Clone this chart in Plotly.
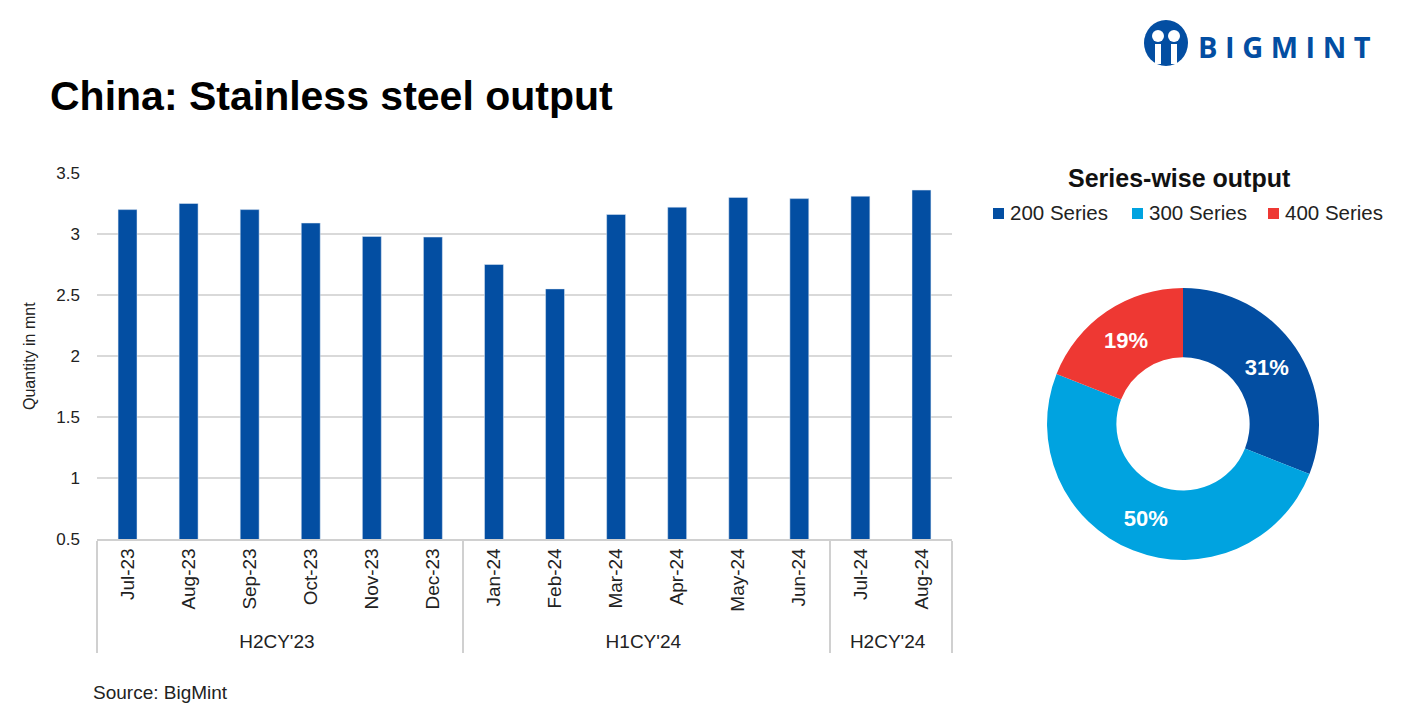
import plotly.graph_objects as go

months = ["Jul-23", "Aug-23", "Sep-23", "Oct-23", "Nov-23", "Dec-23",
          "Jan-24", "Feb-24", "Mar-24", "Apr-24", "May-24", "Jun-24",
          "Jul-24", "Aug-24"]
periods = ["H2CY'23"] * 6 + ["H1CY'24"] * 6 + ["H2CY'24"] * 2
output_mnt = [3.20, 3.25, 3.20, 3.09, 2.98, 2.975, 2.75, 2.55, 3.16, 3.22, 3.30, 3.29, 3.31, 3.36]

series_labels = ["200 Series", "300 Series", "400 Series"]
series_share = [31, 50, 19]
series_colors = ["#034EA2", "#00A3E0", "#EE3833"]

FONT = "Liberation Sans, Arial, sans-serif"
W, H = 1407, 727
OFF = 8  # page body margin


def px(x):
    return (x - OFF) / W


def py(y):
    return 1 - (y - OFF) / H


fig = go.Figure()
fig.add_trace(go.Bar(
    x=[periods, months], y=output_mnt, marker_color="#034EA2",
    width=0.31, showlegend=False, xaxis="x", yaxis="y"))

fig.add_trace(go.Pie(
    labels=series_labels, values=series_share, hole=0.49, sort=False,
    direction="clockwise", rotation=0,
    marker=dict(colors=series_colors, line=dict(width=0)),
    textinfo="percent", texttemplate="%{percent:.0%}",
    textposition="inside", insidetextorientation="horizontal",
    textfont=dict(color="white", size=22, family=FONT, weight="bold"),
    domain=dict(x=[px(1183 - 136), px(1183 + 136)], y=[py(560), py(288)]),
    showlegend=False))

fig.update_layout(
    width=W, height=H, paper_bgcolor="white", plot_bgcolor="white",
    margin=dict(l=0, r=0, t=0, b=0, autoexpand=False),
    font=dict(family=FONT, color="#222222", size=16),
    xaxis=dict(domain=[px(97), px(952)], type="multicategory", automargin=False,
               showline=True, linecolor="#D0D0D0", linewidth=1.5,
               showdividers=True, dividercolor="#D0D0D0", dividerwidth=1.5,
               tickangle=-90, tickfont=dict(size=19, color="#222222"),
               ticks="", showgrid=False),
    yaxis=dict(domain=[py(539), py(173)], range=[0.5, 3.5], automargin=False,
               tickvals=[0.5, 1, 1.5, 2, 2.5, 3, 3.5],
               ticktext=["0.5", "1", "1.5", "2", "2.5", "3", "3.5"],
               showgrid=True, gridcolor="#D9D9D9", gridwidth=2,
               zeroline=False, showline=False, ticks="", ticklabelstandoff=16,
               tickfont=dict(size=17, color="#222222")),
    showlegend=False,
)

# legend for the donut (squares + labels)
legend_sq_x = [993, 1132, 1268]
legend_tx_x = [1008, 1147, 1283]
for lab, col, sx, tx in zip(series_labels, series_colors, legend_sq_x, legend_tx_x):
    fig.add_shape(type="rect", xref="paper", yref="paper",
                  x0=px(sx), x1=px(sx + 11), y0=py(219), y1=py(208),
                  fillcolor=col, line=dict(width=0))
    fig.add_annotation(x=px(tx), y=py(213), xref="paper", yref="paper",
                       xanchor="left", yanchor="middle", text=lab, showarrow=False,
                       font=dict(size=20.5, color="#222222"))

fig.add_annotation(x=px(30), y=py(356), xref="paper", yref="paper",
                   xanchor="center", yanchor="middle",
                   text="Quantity in mnt", textangle=-90, showarrow=False,
                   font=dict(size=16, color="#222222"))
fig.add_annotation(x=px(48), y=py(96), xref="paper", yref="paper",
                   xanchor="left", yanchor="middle",
                   text="<b>China: Stainless steel output</b>", showarrow=False,
                   font=dict(size=41, color="#000000"))
fig.add_annotation(x=px(1179), y=py(178), xref="paper", yref="paper",
                   xanchor="center", yanchor="middle",
                   text="<b>Series-wise output</b>", showarrow=False,
                   font=dict(size=25, color="#111111"))
fig.add_annotation(x=px(91), y=py(692), xref="paper", yref="paper",
                   xanchor="left", yanchor="middle",
                   text="Source: BigMint", showarrow=False,
                   font=dict(size=19, color="#222222"))
# logo
fig.add_shape(type="circle", xref="paper", yref="paper",
              x0=px(1144), x1=px(1188), y0=py(66), y1=py(20),
              fillcolor="#034EA2", line=dict(width=0))
fig.add_shape(type="circle", xref="paper", yref="paper",
              x0=px(1152), x1=px(1164), y0=py(42), y1=py(30),
              fillcolor="white", line=dict(width=0))
fig.add_shape(type="circle", xref="paper", yref="paper",
              x0=px(1168), x1=px(1180), y0=py(42), y1=py(30),
              fillcolor="white", line=dict(width=0))
fig.add_shape(type="rect", xref="paper", yref="paper",
              x0=px(1155), x1=px(1161), y0=py(64), y1=py(44),
              fillcolor="white", line=dict(width=0))
fig.add_shape(type="rect", xref="paper", yref="paper",
              x0=px(1171), x1=px(1177), y0=py(64), y1=py(44),
              fillcolor="white", line=dict(width=0))
fig.add_annotation(x=px(1196), y=py(46), xref="paper", yref="paper",
                   xanchor="left", yanchor="middle",
                   text="<b>B I G M I N T</b>", showarrow=False,
                   font=dict(size=29, color="#034EA2", family="Open Sans, sans-serif", weight=800))

fig.write_html("out.html")
